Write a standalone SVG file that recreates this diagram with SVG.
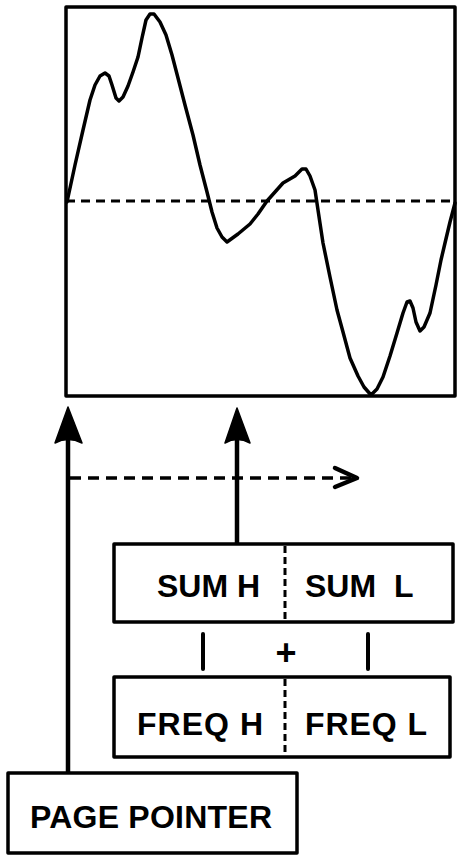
<svg xmlns="http://www.w3.org/2000/svg" width="459" height="857" viewBox="0 0 459 857">
<style>
.box{fill:none;stroke:#000;stroke-width:3.5;stroke-linejoin:round}
.wave{fill:none;stroke:#000;stroke-width:3.5;stroke-linejoin:round;stroke-linecap:round}
.mid{fill:none;stroke:#000;stroke-width:3;stroke-dasharray:9 6}
.div{fill:none;stroke:#000;stroke-width:3;stroke-dasharray:7 4}
.shaft{fill:none;stroke:#000;stroke-width:4.5}
.dash{fill:none;stroke:#000;stroke-width:3.5;stroke-dasharray:11 7}
.head{fill:#000;stroke:#000;stroke-width:1.5;stroke-linejoin:round}
.chev{fill:none;stroke:#000;stroke-width:4.5;stroke-linecap:round;stroke-linejoin:round}
.bar{stroke:#000;stroke-width:4;stroke-linecap:round}
text{font-family:"Liberation Sans",Arial,sans-serif;font-weight:700;font-size:32px;fill:#000}
</style>
<rect width="459" height="857" fill="#fff"/>
<g id="chart">
<rect class="box" x="66" y="7" width="389" height="389"/>
<line class="mid" x1="66" y1="201" x2="455" y2="201"/>
<polyline class="wave" points="67,202 75,165 83,130 90,100 95,85 100,76 105,73 109,76 112,85 116,98 119,101 123,97 128,86 133,72 138,57 142,38 146,20 150,14 154,14 160,22 166,35 172,55 178,78 185,105 193,135 200,165 207,192 212,212 217,228 222,237 227,242 238,234 250,224 258,214 267,201 275,192 283,183 295,176 302,169 306,169 310,176 315,190 318,210 323,243 330,277 337,310 343,332 350,358 358,376 364,387 371,395 377,389 383,377 390,356 397,333 403,313 407,302 410,301 413,308 416,322 420,331 424,327 430,313 436,285 441,260 445,243 450,222 455,203"/>
</g>
<g id="sum">
<rect class="box" x="114" y="544" width="339" height="78"/>
<line class="div" x1="285" y1="546" x2="285" y2="620"/>
<text x="157" y="597" textLength="103" lengthAdjust="spacing">SUM H</text>
<text x="305" y="597" xml:space="preserve">SUM  L</text>
</g>
<g id="freq">
<rect class="box" x="114" y="677" width="336" height="80"/>
<line class="div" x1="285" y1="679" x2="285" y2="755"/>
<text x="137" y="735" textLength="126" lengthAdjust="spacing">FREQ H</text>
<text x="305" y="735" textLength="122" lengthAdjust="spacing">FREQ L</text>
</g>
<g id="page-pointer">
<rect class="box" x="8" y="773" width="289" height="80"/>
<text x="30" y="828" textLength="242" lengthAdjust="spacing">PAGE POINTER</text>
</g>
<g id="connectors">
<line class="shaft" x1="68" y1="773" x2="68" y2="436"/>
<path class="head" d="M68,407 L82,443 Q68,436 55,443 Z"/>
<line class="shaft" x1="237" y1="544" x2="237" y2="436"/>
<path class="head" d="M237,408 L250,443 Q237,436 225,443 Z"/>
<line class="dash" x1="70" y1="478" x2="352" y2="478"/>
<polyline class="chev" points="335,468 357,478 335,487"/>
<line class="bar" x1="203" y1="634" x2="203" y2="669"/>
<line class="bar" x1="368" y1="634" x2="368" y2="669"/>
<text x="286" y="665" text-anchor="middle" style="font-size:36px">+</text>
</g>
</svg>
